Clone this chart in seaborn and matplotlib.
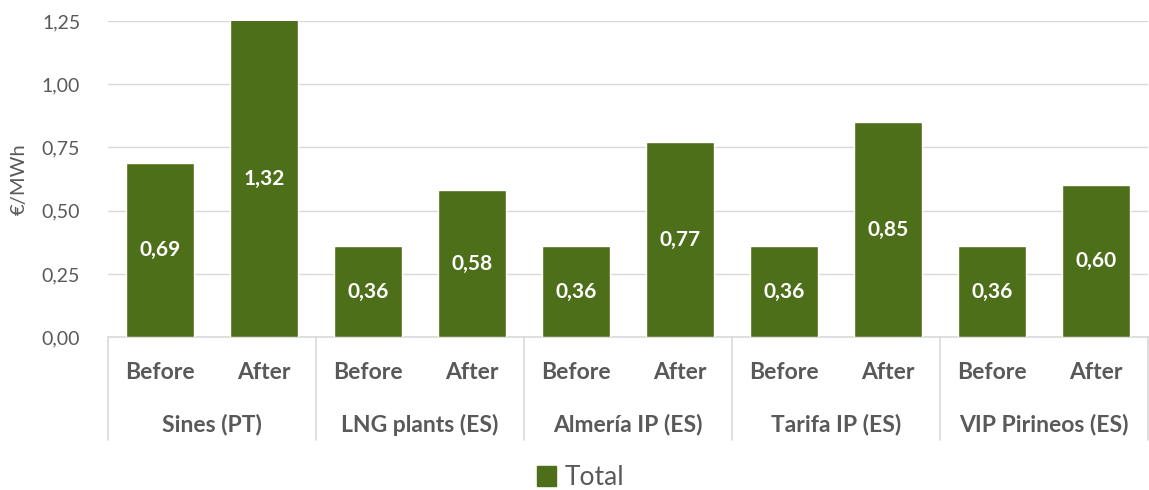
import numpy as np
import pandas as pd
import seaborn as sns
import matplotlib.pyplot as plt
from matplotlib.patches import Patch
from matplotlib.ticker import FuncFormatter
import matplotlib.transforms as mtransforms

# === Data ===
groups = ['Sines (PT)', 'LNG plants (ES)', 'Almería IP (ES)', 'Tarifa IP (ES)', 'VIP Pirineos (ES)']
stages = ['Before', 'After']
before_vals = [0.69, 0.36, 0.36, 0.36, 0.36]
after_vals = [1.32, 0.58, 0.77, 0.85, 0.60]

rows = []
for g, b, a in zip(groups, before_vals, after_vals):
    rows.append({'group': g, 'stage': 'Before', 'value': b})
    rows.append({'group': g, 'stage': 'After', 'value': a})
df = pd.DataFrame(rows)
df['slot'] = df['group'] + '|' + df['stage']

GREEN = '#4E6F1A'
GREY_TXT = '#595959'
GRID = '#D9D9D9'
YMAX = 1.25

sns.set_theme(style='white')
plt.rcParams['font.family'] = ['Lato', 'DejaVu Sans']

fig = plt.figure(figsize=(11.49, 4.9), dpi=100)
ax = fig.add_axes([0.094, 0.312, 0.905, 0.645])

sns.barplot(data=df, x='slot', y='value', color=GREEN, width=0.66,
            saturation=1, ax=ax, zorder=3)

ax.set_ylim(0, YMAX)
ax.set_xlim(-0.5, len(df) - 0.5)
ax.set_yticks(np.arange(0, 1.26, 0.25))
ax.yaxis.set_major_formatter(FuncFormatter(lambda v, p: f"{v:.2f}".replace('.', ',')))
ax.grid(axis='y', color=GRID, lw=1, zorder=0)
for s in ['top', 'right', 'left']:
    ax.spines[s].set_visible(False)
ax.spines['bottom'].set_color(GRID)
ax.spines['bottom'].set_linewidth(1.2)
ax.tick_params(axis='y', labelsize=14, colors=GREY_TXT, length=0, pad=20)
ax.tick_params(axis='x', length=0)
ax.set_xticks([])
ax.set_xlabel('')
ax.set_ylabel('€/MWh', fontsize=14.5, color=GREY_TXT, labelpad=10)

# value labels in the middle of the visible bar
for i, v in enumerate(df['value']):
    ax.text(i, min(v, YMAX) / 2, f"{v:.2f}".replace('.', ','), ha='center', va='center',
            color='white', fontsize=15, fontweight='bold', zorder=4)

# two-level category axis
trans = mtransforms.blended_transform_factory(ax.transData, ax.transAxes)
for i, st in enumerate(df['stage']):
    ax.text(i, -0.111, st, transform=trans, ha='center', va='center',
            fontsize=16.5, fontweight='bold', color=GREY_TXT)
for k, g in enumerate(groups):
    ax.text(2 * k + 0.5, -0.278, g, transform=trans, ha='center', va='center',
            fontsize=16.5, fontweight='bold', color=GREY_TXT)
for k in range(len(groups) + 1):
    ax.plot([2 * k - 0.5, 2 * k - 0.5], [0, -0.326], transform=trans,
            color=GRID, lw=1.2, clip_on=False)

fig.legend(handles=[Patch(facecolor=GREEN, edgecolor=GREEN)], labels=['Total'],
           loc='center', bbox_to_anchor=(0.505, 0.025), frameon=False,
           fontsize=19, handlelength=0.75, handleheight=0.75, handletextpad=0.3,
           labelcolor=GREY_TXT)

plt.savefig('out.png', dpi=100)
